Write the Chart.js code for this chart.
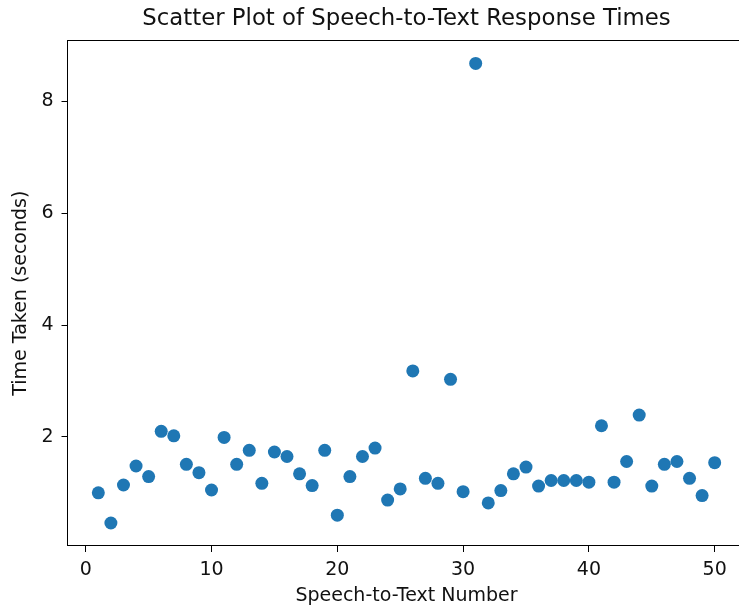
<!DOCTYPE html>
<html>
<head>
<meta charset="utf-8">
<script src="https://cdn.jsdelivr.net/npm/chart.js@4"></script>
<style>
    html, body { margin: 0; padding: 0; background: #fff; overflow: hidden; }
    #wrap { width: 752px; height: 607px; position: relative; }
</style>
</head>
<body>
<div id="wrap"><canvas id="scatterChart"></canvas></div>
<script>
// response number for each speech-to-text call
const callNumbers = [1, 2, 3, 4, 5, 6, 7, 8, 9, 10, 11, 12, 13, 14, 15, 16, 17, 18, 19, 20, 21, 22, 23, 24, 25,
    26, 27, 28, 29, 30, 31, 32, 33, 34, 35, 36, 37, 38, 39, 40, 41, 42, 43, 44, 45, 46, 47, 48, 49, 50];
// seconds taken per call
const timeTaken = [1.00, 0.46, 1.14, 1.48, 1.29, 2.10, 2.02, 1.51, 1.36, 1.05,
    1.99, 1.51, 1.76, 1.17, 1.73, 1.65, 1.34, 1.13, 1.76, 0.60,
    1.29, 1.65, 1.80, 0.87, 1.07, 3.18, 1.26, 1.17, 3.03, 1.02,
    8.68, 0.82, 1.04, 1.34, 1.46, 1.12, 1.22, 1.22, 1.22, 1.19,
    2.20, 1.19, 1.56, 2.39, 1.12, 1.51, 1.56, 1.26, 0.95, 1.54];
const xTicks = [0, 10, 20, 30, 40, 50];
const yTicks = [2, 4, 6, 8];

const FONT = "'DejaVu Sans', sans-serif";

// frame around the plot area (spines), snapped to whole pixels
const frame = {
    id: 'frame',
    afterDatasetsDraw(chart) {
        const a = chart.chartArea;
        const c = chart.ctx;
        const l = Math.round(a.left) - 0.5, t = Math.round(a.top) + 0.5;
        const r = Math.round(a.right) + 0.5, b = Math.round(a.bottom) - 0.5;
        c.save();
        c.strokeStyle = '#000';
        c.lineWidth = 1;
        c.strokeRect(l, t, r - l, b - t);
        c.restore();
    }
};

const ctx = document.getElementById('scatterChart');

new Chart(ctx, {
    type: 'scatter',
    data: {
        datasets: [{
            data: callNumbers.map((n, i) => ({ x: n, y: timeTaken[i] })),
            backgroundColor: '#1f77b4',
            borderWidth: 0,
            pointRadius: 6.5,
            pointHoverRadius: 6.5
        }]
    },
    options: {
        responsive: true,
        maintainAspectRatio: false,
        animation: false,
        layout: { padding: { left: 0, right: 5, top: 0, bottom: 0 } },
        plugins: {
            legend: { display: false },
            tooltip: { enabled: false },
            title: {
                display: true,
                fullSize: false,
                text: 'Scatter Plot of Speech-to-Text Response Times',
                color: '#111',
                font: { family: FONT, size: 22.8, weight: 'normal' },
                padding: { top: 5.5, bottom: 7.6 }
            }
        },
        scales: {
            x: {
                type: 'linear',
                min: -1.45,
                max: 52.45,
                afterBuildTicks: s => { s.ticks = xTicks.map(v => ({ value: v })); },
                afterFit: s => { s.height = 61; },
                border: { display: false },
                grid: { drawOnChartArea: false, drawTicks: true, tickLength: 6, color: '#000' },
                ticks: { color: '#111', font: { family: FONT, size: 19 }, padding: 7, maxRotation: 0 },
                title: {
                    display: true,
                    text: 'Speech-to-Text Number',
                    color: '#111',
                    font: { family: FONT, size: 19 },
                    padding: { top: 0.5, bottom: 0 }
                }
            },
            y: {
                type: 'linear',
                min: 0.049,
                max: 9.09,
                afterBuildTicks: s => { s.ticks = yTicks.map(v => ({ value: v })); },
                afterFit: s => { s.width = 67.5; },
                border: { display: false },
                grid: { drawOnChartArea: false, drawTicks: true, tickLength: 6, color: '#000' },
                ticks: { color: '#111', font: { family: FONT, size: 19 }, padding: 8 },
                title: {
                    display: true,
                    text: 'Time Taken (seconds)',
                    color: '#111',
                    font: { family: FONT, size: 19 },
                    padding: { top: 10, bottom: 0 }
                }
            }
        }
    },
    plugins: [frame]
});
</script>
</body>
</html>
